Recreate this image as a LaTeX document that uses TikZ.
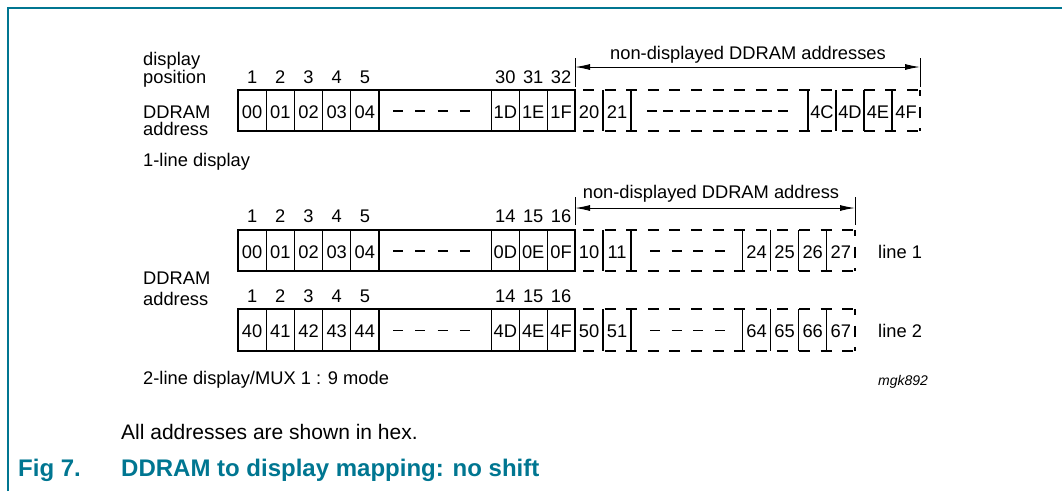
\documentclass[tikz,border=0pt]{standalone}
\usepackage{fontspec}
\setmainfont{Liberation Sans}
\usetikzlibrary{arrows.meta}
\definecolor{nxpteal}{RGB}{0,118,145}
\newcommand\figfont{\fontsize{18.3}{22}\selectfont}
\tikzset{
  lbl/.style={font=\figfont, inner sep=0pt, anchor=base west},
  num/.style={font=\figfont, inner sep=0pt, anchor=base},
  cellline/.style={line width=1.2pt},
  dline/.style={line width=1.2pt, dash pattern=on 11pt off 10.6pt, dash phase=13.6pt},
  dvert/.style={line width=1.2pt, dash pattern=on 11pt off 10.6pt, dash phase=5pt},
  mdash/.style={line width=1.2pt},
  dimbar/.style={line width=0.8pt},
  dimarrow/.style={line width=1pt, {Latex[length=15pt,width=6pt]}-{Latex[length=15pt,width=6pt]}}
}
\begin{document}
\begin{tikzpicture}[x=1pt,y=-1pt]
\useasboundingbox (0,0) rectangle (1062,491);
% frame
\draw[nxpteal, line width=1.5pt] (8,491) -- (8,8) -- (1062,8);

% ===== 1-line display =====
\node[lbl] (disp) at (143,65) {display};
\node[lbl] (pos) at (143,83) {position};
\node[lbl] (dd1) at (143,118) {DDRAM};
\node[lbl] (ad1) at (143,135) {address};
\node[lbl] (one) at (143,166) {1-line display};

% dimension arrow
\coordinate (a1t) at (575,58); \coordinate (a1b) at (575,87);
\coordinate (b1t) at (920,58); \coordinate (b1b) at (920,87);
\coordinate (a1) at (575,67); \coordinate (b1) at (920,67);
\draw[dimbar] (a1t) -- (a1b);
\draw[dimbar] (b1t) -- (b1b);
\draw[dimarrow] (a1) -- (b1);
\node[num] (nd1) at (748,59) {non-displayed DDRAM addresses};

% solid cells
\draw[cellline] (238,90) rectangle (575,131);
\foreach \x in {266.2,294.4,322.6,350.8,379,491.5,519.3,547.2}
  \draw[cellline] (\x,90) -- (\x,131);
\foreach \x/\n/\h in {252.1/1/00,280.3/2/01,308.5/3/02,336.7/4/03,364.9/5/04,505.4/30/1D,533.2/31/1E,561.1/32/1F}{
  \node[num] at (\x,83) {\n};
  \node[num] at (\x,118) {\h};
}
\draw[mdash, dash pattern=on 10pt off 12.3pt] (393,111) -- (470,111);
% non-displayed cells
\draw[dline] (575,90) -- (920,90);
\draw[dline] (575,131) -- (920,131);
\draw[dvert] (920,90) -- (920,131);
\foreach \x in {603,631,808,836,864,892}
  \draw[cellline] (\x,90) -- (\x,131);
\foreach \x/\h in {589/20,617/21,822/4C,850/4D,878/4E,906/4F}
  \node[num] at (\x,118) {\h};
\draw[mdash, dash pattern=on 10pt off 6.4pt] (647,111) -- (788,111);

% ===== 2-line display =====
\coordinate (a2t) at (575,197); \coordinate (a2b) at (575,225);
\coordinate (b2t) at (855,197); \coordinate (b2b) at (855,225);
\coordinate (a2) at (575,208); \coordinate (b2) at (855,208);
\draw[dimbar] (a2t) -- (a2b);
\draw[dimbar] (b2t) -- (b2b);
\draw[dimarrow] (a2) -- (b2);
\node[num] (nd2) at (711,198) {non-displayed DDRAM address};

\node[lbl] (dd2) at (143,284) {DDRAM};
\node[lbl] (ad2) at (143,305) {address};
\node[lbl] (two) at (143,384) {2-line display/MUX 1 : 9 mode};
\node[lbl] (ln1) at (878,258) {line 1};
\node[lbl] (ln2) at (878,337) {line 2};

% line 1 row
\foreach \t/\b/\base/\nb/\ha/\hb/\hc/\hd/\he/\hf/\hg/\hh/\hi/\hj/\hk/\hl/\hm/\hn in
  {230/271/258/222/00/01/02/03/04/0D/0E/0F/10/11/24/25/26/27,
   309/351/337/302/40/41/42/43/44/4D/4E/4F/50/51/64/65/66/67}{
  \draw[cellline] (238,\t) rectangle (575,\b);
  \foreach \x in {266.2,294.4,322.6,350.8,379,491.5,519.3,547.2}
    \draw[cellline] (\x,\t) -- (\x,\b);
  \foreach \x/\n in {252.1/1,280.3/2,308.5/3,336.7/4,364.9/5,505.4/14,533.2/15,561.1/16}
    \node[num] at (\x,\nb) {\n};
  \node[num] at (252.1,\base) {\ha};
  \node[num] at (280.3,\base) {\hb};
  \node[num] at (308.5,\base) {\hc};
  \node[num] at (336.7,\base) {\hd};
  \node[num] at (364.9,\base) {\he};
  \node[num] at (505.4,\base) {\hf};
  \node[num] at (533.2,\base) {\hg};
  \node[num] at (561.1,\base) {\hh};
  \node[num] at (589,\base) {\hi};
  \node[num] at (617,\base) {\hj};
  \node[num] at (756.5,\base) {\hk};
  \node[num] at (784.6,\base) {\hl};
  \node[num] at (812.7,\base) {\hm};
  \node[num] at (840.9,\base) {\hn};
  \pgfmathsetmacro\mid{(\t+\b)/2+0.5}
  \draw[mdash, dash pattern=on 10pt off 12.3pt] (393,\mid) -- (470,\mid);
  \draw[mdash, dash pattern=on 10pt off 11.7pt] (650,\mid) -- (725,\mid);
  \draw[dline] (575,\t) -- (855,\t);
  \draw[dline] (575,\b) -- (855,\b);
  \draw[dvert] (855,\t) -- (855,\b);
  \foreach \x in {603,631,742.5,770.6,798.7,826.8}
    \draw[cellline] (\x,\t) -- (\x,\b);
}

\node[lbl, font=\fontsize{14}{17}\selectfont\itshape] (mgk) at (878,385) {mgk892};

% notes and caption
\node[lbl, font=\fontsize{21}{25}\selectfont] (note) at (121,439) {All addresses are shown in hex.};
\node[lbl, font=\fontsize{24}{28}\selectfont\bfseries, text=nxpteal] (fig) at (18,476) {Fig 7.};
\node[lbl, font=\fontsize{24}{28}\selectfont\bfseries, text=nxpteal] (cap) at (121,476) {DDRAM to display mapping: no shift};
\end{tikzpicture}
\end{document}
